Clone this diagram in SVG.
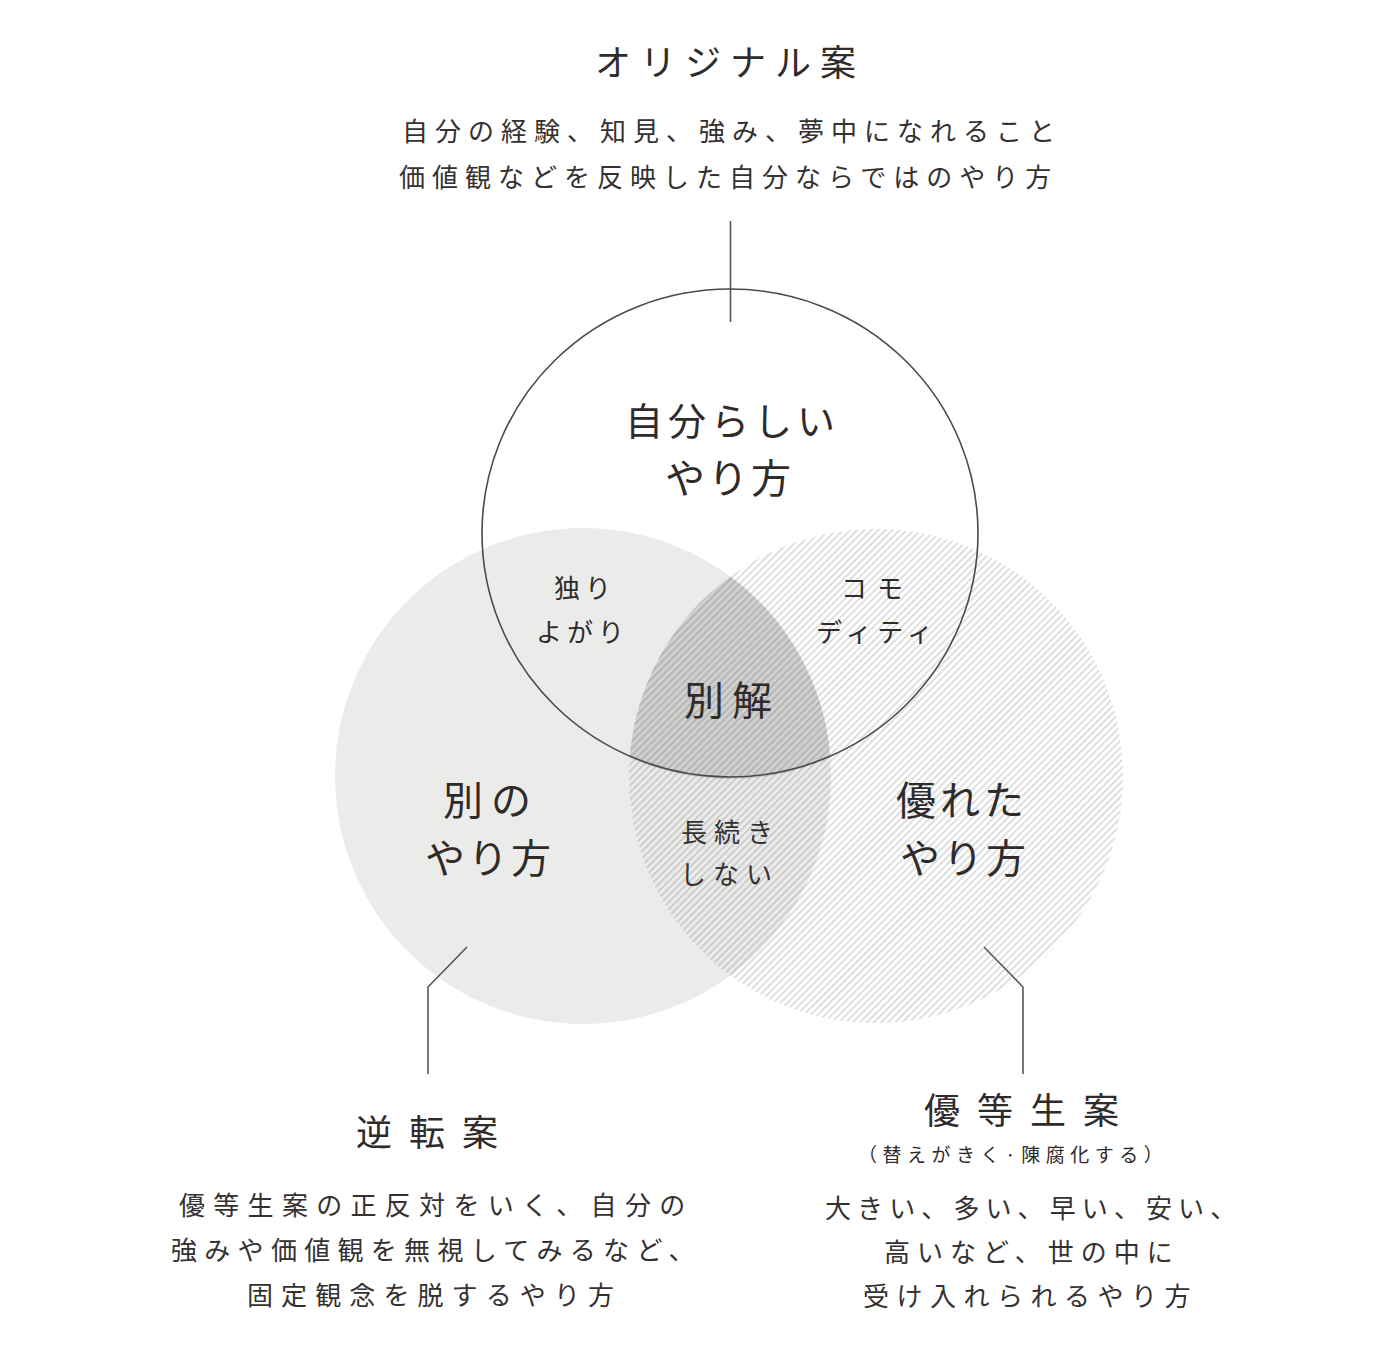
<svg xmlns="http://www.w3.org/2000/svg" width="1388" height="1356" viewBox="0 0 1388 1356">
<style>
text{font-family:"Noto Sans CJK JP","Noto Sans CJK SC",sans-serif;fill:#2f2b2b;font-weight:400}
.t36{font-size:36px;letter-spacing:9px}
.t36w{font-size:36px;letter-spacing:17px}
.t40{font-size:40px}
.t38{font-size:38px;letter-spacing:5px}
.t26{font-size:26px;letter-spacing:7px;fill:#353131}
.s26{font-size:26px;letter-spacing:5px}
.t19{font-size:19px;letter-spacing:5.5px}
.lead{fill:none;stroke:#5a5555;stroke-width:1.6}
</style>
<defs>
<pattern id="hatch" patternUnits="userSpaceOnUse" width="5" height="5" patternTransform="rotate(45)">
<rect x="0" y="0" width="1.7" height="5" fill="#000" fill-opacity="0.15"/>
</pattern>
<clipPath id="clipL"><circle cx="583" cy="776" r="248"/></clipPath>
<clipPath id="clipR"><circle cx="876" cy="776" r="247"/></clipPath>
</defs>
<rect width="1388" height="1356" fill="#fff"/>
<g id="circle-left"><circle cx="583" cy="776" r="248" fill="#ebecea"/></g>
<g id="triple" clip-path="url(#clipL)"><g clip-path="url(#clipR)"><circle cx="730" cy="533" r="246" fill="#d0d1cf"/></g></g>
<g id="circle-right"><circle cx="876" cy="776" r="247" fill="url(#hatch)"/></g>
<g id="circle-top"><ellipse cx="730" cy="533" rx="248" ry="244" fill="none" stroke="#4e4949" stroke-width="1.6"/></g>
<g id="connectors">
<line class="lead" x1="730.5" y1="221" x2="730.5" y2="322"/>
<polyline class="lead" points="467,947 428,987 428,1074"/>
<polyline class="lead" points="984,947 1023,987 1023,1074"/>
</g>
<g id="original">
<text class="t36" x="595" y="76">オリジナル案</text>
<text class="t26" x="402" y="141">自分の経験、知見、強み、夢中になれること</text>
<text class="t26" x="399" y="187">価値観などを反映した自分ならではのやり方</text>
</g>
<g id="label-top">
<text class="t38" x="625" y="435">自分らしい</text>
<text class="t40" x="665" y="493" style="letter-spacing:3px">やり方</text>
</g>
<g id="label-hitoriyogari">
<text class="s26" x="554" y="598">独り</text>
<text class="s26" x="536" y="642">よがり</text>
</g>
<g id="label-commodity">
<text class="s26" x="841" y="598" style="letter-spacing:10px">コモ</text>
<text class="s26" x="816" y="642" style="letter-spacing:5.5px">ディティ</text>
</g>
<g id="label-betsukai">
<text class="t40" x="684" y="715" style="letter-spacing:8px">別解</text>
</g>
<g id="label-left">
<text class="t40" x="443" y="815" style="letter-spacing:8px">別の</text>
<text class="t40" x="425" y="873" style="letter-spacing:3px">やり方</text>
</g>
<g id="label-nagatsuzuki">
<text class="t26" x="681" y="842">長続き</text>
<text class="t26" x="680" y="884">しない</text>
</g>
<g id="label-right">
<text class="t40" x="896" y="815" style="letter-spacing:4px">優れた</text>
<text class="t40" x="900" y="873" style="letter-spacing:3px">やり方</text>
</g>
<g id="gyakuten">
<text class="t36w" x="356" y="1146">逆転案</text>
<text class="t26" x="179" y="1215" style="letter-spacing:8.3px">優等生案の正反対をいく、自分の</text>
<text class="t26" x="171" y="1260" style="letter-spacing:7.3px">強みや価値観を無視してみるなど、</text>
<text class="t26" x="247" y="1305" style="letter-spacing:8.1px">固定観念を脱するやり方</text>
</g>
<g id="yutousei">
<text class="t36w" x="924" y="1124">優等生案</text>
<text class="t19" x="858" y="1162">（替えがきく·陳腐化する）</text>
<text class="t26" x="825" y="1218" style="letter-spacing:6.1px">大きい、多い、早い、安い、</text>
<text class="t26" x="884" y="1262">高いなど、世の中に</text>
<text class="t26" x="863" y="1306" style="letter-spacing:7.5px">受け入れられるやり方</text>
</g>
</svg>
